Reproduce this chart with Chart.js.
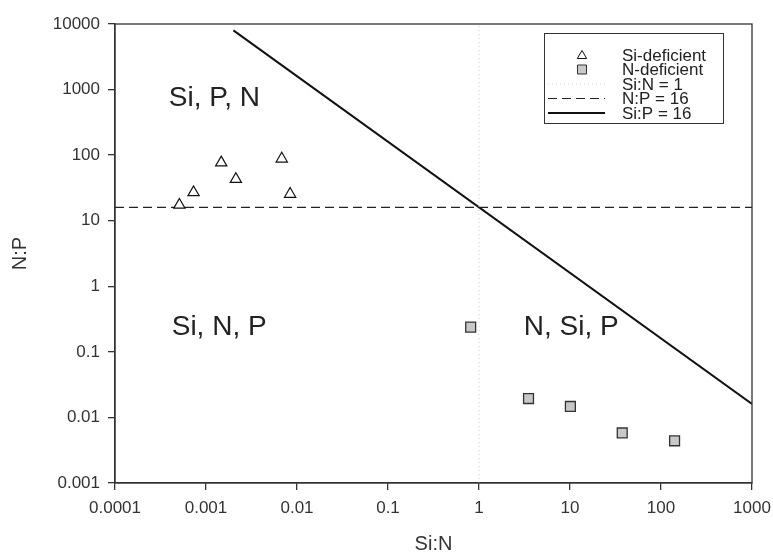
<!DOCTYPE html>
<html>
<head>
<meta charset="utf-8">
<script src="https://cdn.jsdelivr.net/npm/chart.js@4/dist/chart.umd.min.js"></script>
<style>
  html, body { margin: 0; padding: 0; background: #fff; }
  #wrap { width: 773px; height: 556px; }
</style>
</head>
<body>
<div id="wrap"><canvas id="ratioChart" width="773" height="556"></canvas></div>
<script>
// data
const siDefX = [0.00051, 0.00073, 0.00147, 0.00213, 0.0068, 0.0084];
const siDefY = [17.4, 27, 77, 43, 88, 25.5];
const nDefX = [0.81, 3.5, 10.1, 37.5, 141];
const nDefY = [0.238, 0.0194, 0.0147, 0.0058, 0.0044];
const siN1X = [1, 1];
const siN1Y = [0.001, 10000];
const nP16X = [0.0001, 1000];
const nP16Y = [16, 16];
const siP16X = [0.002, 1000];
const siP16Y = [8000, 0.016];
const decadeTicks = [0.0001, 0.001, 0.01, 0.1, 1, 10, 100, 1000, 10000];
const regionLabels = [
  { text: "Si, P, N", x: 0.00039, y: 745 },
  { text: "Si, N, P", x: 0.00042, y: 0.234 },
  { text: "N, Si, P", x: 3.1, y: 0.234 }
];

const pts = (xs, ys) => xs.map((x, i) => ({ x: x, y: ys[i] }));
const axisColor = "#333333";
const fam = "Arial, 'Liberation Sans', sans-serif";
const tickFont = { family: fam, size: 17 };

// frame, region labels and the boxed legend
const extras = {
  id: "extras",
  afterDatasetsDraw(chart) {
    const { ctx, chartArea: a, scales } = chart;
    ctx.save();
    ctx.strokeStyle = axisColor;
    ctx.lineWidth = 1.3;
    ctx.strokeRect(a.left, a.top, a.right - a.left, a.bottom - a.top);

    ctx.fillStyle = "#222";
    ctx.font = "28px " + fam;
    ctx.textBaseline = "middle";
    ctx.textAlign = "left";
    regionLabels.forEach(r => {
      ctx.fillText(r.text, scales.x.getPixelForValue(r.x), scales.y.getPixelForValue(r.y));
    });

    // legend
    const bx = 544, by = 33, bw = 179, bh = 90;
    ctx.fillStyle = "#fff";
    ctx.fillRect(bx, by, bw, bh);
    ctx.strokeStyle = "#333";
    ctx.lineWidth = 1;
    ctx.strokeRect(bx + 0.5, by + 0.5, bw, bh);
    const rowY = [55, 69.5, 84, 98.5, 113];
    const symX = 582, lx0 = 548, lx1 = 605, textX = 622;
    ctx.font = "17px " + fam;
    chart.data.datasets.forEach((ds, i) => {
      const y = rowY[i];
      ctx.save();
      if (ds.showLine) {
        ctx.strokeStyle = ds.borderColor;
        ctx.lineWidth = ds.borderWidth;
        ctx.setLineDash(ds.borderDash || []);
        ctx.beginPath();
        ctx.moveTo(lx0, y);
        ctx.lineTo(lx1, y);
        ctx.stroke();
      } else {
        ctx.strokeStyle = ds.borderColor;
        ctx.fillStyle = ds.backgroundColor;
        ctx.lineWidth = 1;
        ctx.beginPath();
        if (ds.pointStyle === "triangle") {
          ctx.moveTo(symX, y - 4.5);
          ctx.lineTo(symX + 4.7, y + 3.5);
          ctx.lineTo(symX - 4.7, y + 3.5);
          ctx.closePath();
        } else {
          ctx.rect(symX - 4.5, y - 4.5, 9, 9);
        }
        ctx.fill();
        ctx.stroke();
      }
      ctx.restore();
      ctx.fillStyle = "#222";
      ctx.fillText(ds.label, textX, y + 1);
    });
    ctx.restore();
  }
};

const ctx = document.getElementById("ratioChart").getContext("2d");

new Chart(ctx, {
  type: "scatter",
  data: {
    datasets: [
      {
        label: "Si-deficient",
        data: pts(siDefX, siDefY),
        pointStyle: "triangle",
        pointRadius: 6.5,
        backgroundColor: "#ffffff",
        borderColor: "#111111",
        borderWidth: 1.2,
        showLine: false
      },
      {
        label: "N-deficient",
        data: pts(nDefX, nDefY),
        pointStyle: "rect",
        pointRadius: 7,
        backgroundColor: "#c8c8c8",
        borderColor: "#333333",
        borderWidth: 1.3,
        showLine: false
      },
      {
        label: "Si:N = 1",
        data: pts(siN1X, siN1Y),
        showLine: true,
        pointRadius: 0,
        borderColor: "#cfcfcf",
        borderWidth: 1,
        borderDash: [1, 3]
      },
      {
        label: "N:P = 16",
        data: pts(nP16X, nP16Y),
        showLine: true,
        pointRadius: 0,
        borderColor: "#222222",
        borderWidth: 1.2,
        borderDash: [9, 5]
      },
      {
        label: "Si:P = 16",
        data: pts(siP16X, siP16Y),
        showLine: true,
        pointRadius: 0,
        borderColor: "#111111",
        borderWidth: 2
      }
    ]
  },
  options: {
    responsive: false,
    animation: false,
    layout: { padding: { left: 0, right: 21, top: 24, bottom: 0 } },
    plugins: {
      legend: { display: false },
      tooltip: { enabled: false }
    },
    scales: {
      x: {
        type: "logarithmic",
        min: 0.0001,
        max: 1000,
        afterBuildTicks: axis => {
          axis.ticks = decadeTicks.filter(v => v <= 1000).map(v => ({ value: v }));
        },
        afterFit: axis => {
          axis.height = 73;
          axis.paddingLeft = 0;
          axis.paddingRight = 0;
        },
        ticks: {
          color: axisColor,
          font: tickFont,
          padding: 8,
          maxRotation: 0,
          autoSkip: false,
          callback: v => String(v)
        },
        grid: { drawOnChartArea: false, drawTicks: true, tickLength: 7, color: axisColor, lineWidth: 1.3 },
        border: { display: true, color: axisColor, width: 1.3 },
        title: {
          display: true,
          text: "Si:N",
          color: axisColor,
          font: { family: fam, size: 20 },
          padding: { top: 10, bottom: 0 }
        }
      },
      y: {
        type: "logarithmic",
        min: 0.001,
        max: 10000,
        afterBuildTicks: axis => {
          axis.ticks = decadeTicks.filter(v => v >= 0.001).map(v => ({ value: v }));
        },
        afterFit: axis => {
          axis.width = 115;
          axis.paddingTop = 0;
          axis.paddingBottom = 0;
        },
        ticks: {
          color: axisColor,
          font: tickFont,
          padding: 8,
          autoSkip: false,
          callback: v => String(v)
        },
        grid: { drawOnChartArea: false, drawTicks: true, tickLength: 7, color: axisColor, lineWidth: 1.3 },
        border: { display: true, color: axisColor, width: 1.3 },
        title: {
          display: true,
          text: "N:P",
          color: axisColor,
          font: { family: fam, size: 20 },
          padding: { top: 8, bottom: 0 }
        }
      }
    }
  },
  plugins: [extras]
});
</script>
</body>
</html>
